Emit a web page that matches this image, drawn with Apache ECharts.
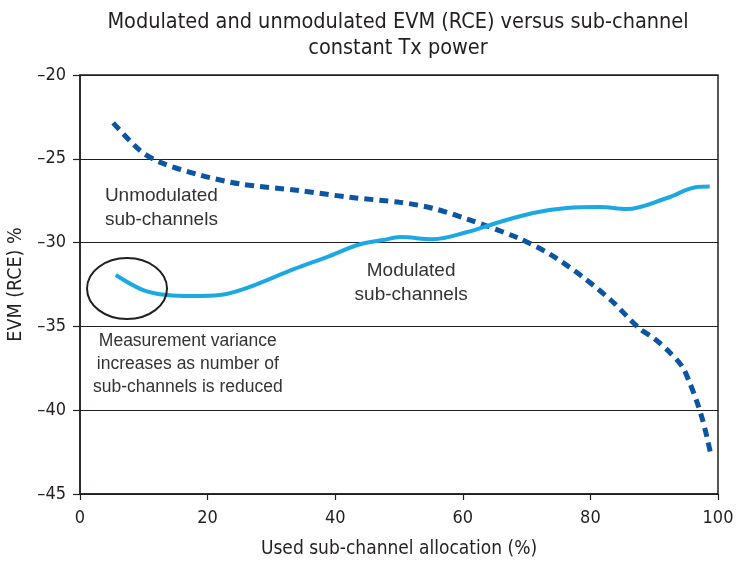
<!DOCTYPE html>
<html><head><meta charset="utf-8">
<script src="https://cdn.jsdelivr.net/npm/echarts@6/dist/echarts.min.js"></script>
<style>html,body{margin:0;padding:0;background:#fff}#c{width:743px;height:563px}</style>
</head><body><div id="c"></div>
<script>
const titleText = 'Modulated and unmodulated EVM (RCE) versus sub-channel\nconstant Tx power';
const xAxisName = 'Used sub-channel allocation (%)';
const yAxisName = 'EVM (RCE) %';
const unmodulatedX = [5.2, 9.4, 12.5, 18.8, 25.1, 34.5, 42.3, 50.2, 55.3, 60.7, 68.5, 73.7, 78.8, 83.4, 87.6, 90.1, 92.3, 94.4, 95.6, 96.7, 97.6, 98.3, 98.9];
const unmodulatedY = [-22.86, -24.5, -25.2, -25.97, -26.5, -26.9, -27.3, -27.6, -27.95, -28.6, -29.7, -30.7, -32.05, -33.5, -35.1, -35.75, -36.5, -37.4, -38.4, -39.5, -40.6, -41.65, -42.7];
const modulatedX = [5.6, 9.9, 13.6, 17.7, 21.9, 26.2, 33.4, 38.7, 43.9, 47.5, 50.2, 55.3, 60.7, 65.8, 71, 76.3, 81.5, 85.7, 92, 96.7, 98.7];
const modulatedY = [-31.93, -32.83, -33.13, -33.19, -33.13, -32.7, -31.6, -30.86, -30.1, -29.85, -29.67, -29.8, -29.37, -28.77, -28.23, -27.94, -27.88, -28.0, -27.34, -26.68, -26.65];
const annotations = [
  {text: 'Unmodulated\nsub-channels', x: 3.9, y: -27.9, align: 'left', size: 19, lh: 24},
  {text: 'Modulated\nsub-channels', x: 51.9, y: -32.4, align: 'center', size: 19, lh: 24},
  {text: 'Measurement variance\nincreases as number of\nsub-channels is reduced', x: 16.9, y: -37.25, align: 'center', size: 17.5, lh: 23}
];
const ellipseCenter = [7.37, -32.74];
const ellipseRadius = [6.27, 1.82];

const font = '"Liberation Sans Narrow", "DejaVu Sans Condensed", Roboto, sans-serif';
const pair = (xs, ys) => xs.map((x, i) => [x, ys[i]]);
const chart = echarts.init(document.getElementById('c'));
chart.setOption({
  animation: false,
  title: {text: titleText, left: 393, top: 4, textAlign: 'center',
    textStyle: {fontFamily: font, fontSize: 21.5, fontWeight: 'normal', color: '#231f20', lineHeight: 26}},
  grid: {left: 80, right: 25, top: 75, bottom: 69, outerBoundsMode: 'none', containLabel: false,
    show: true, borderColor: '#231f20', borderWidth: 1.5, backgroundColor: 'transparent'},
  xAxis: {type: 'value', min: 0, max: 100, interval: 20,
    name: xAxisName, nameLocation: 'middle', nameGap: 46,
    nameTextStyle: {fontFamily: font, fontSize: 19, color: '#231f20'},
    axisLine: {show: true, onZero: false, lineStyle: {color: '#231f20', width: 1.5}},
    axisTick: {show: true, length: 6, lineStyle: {color: '#231f20', width: 1.2}},
    axisLabel: {fontFamily: font, fontSize: 18, color: '#231f20', margin: 15},
    splitLine: {show: false}},
  yAxis: {type: 'value', min: -45, max: -20, interval: 5,
    name: yAxisName, nameLocation: 'middle', nameGap: 49, nameRotate: 90,
    nameTextStyle: {fontFamily: font, fontSize: 19.5, color: '#231f20'},
    axisLine: {show: true, lineStyle: {color: '#231f20', width: 1.5}},
    axisTick: {show: true, length: 7, lineStyle: {color: '#231f20', width: 1.2}},
    axisLabel: {fontFamily: font, fontSize: 18, color: '#231f20', margin: 14,
      formatter: v => String(v).replace('-', '\u2013')},
    splitLine: {show: true, lineStyle: {color: '#231f20', width: 1.2}}},
  series: [
    {type: 'line', name: 'Unmodulated', data: pair(unmodulatedX, unmodulatedY), smooth: 0.3, showSymbol: false,
      lineStyle: {color: '#0b55a3', width: 5, type: [9, 6]}, z: 3},
    {type: 'line', name: 'Modulated', data: pair(modulatedX, modulatedY), smooth: 0.35, showSymbol: false,
      lineStyle: {color: '#1ca8e2', width: 4}, z: 4}
  ]
});
const graphics = annotations.map(a => {
  const p = chart.convertToPixel({gridIndex: 0}, [a.x, a.y]);
  return {type: 'text', x: p[0], y: p[1], z: 10,
    style: {text: a.text, fontFamily: '"Liberation Sans", Arial, sans-serif', fontSize: a.size, fill: '#333',
      align: a.align, verticalAlign: 'middle', lineHeight: a.lh}};
});
const c = chart.convertToPixel({gridIndex: 0}, ellipseCenter);
const r0 = chart.convertToPixel({gridIndex: 0}, [ellipseCenter[0] + ellipseRadius[0], ellipseCenter[1] + ellipseRadius[1]]);
graphics.push({type: 'ellipse', z: 10,
  shape: {cx: c[0], cy: c[1], rx: Math.abs(r0[0] - c[0]), ry: Math.abs(r0[1] - c[1])},
  style: {fill: 'none', stroke: '#231f20', lineWidth: 2}});
chart.setOption({graphic: graphics});
</script></body></html>
